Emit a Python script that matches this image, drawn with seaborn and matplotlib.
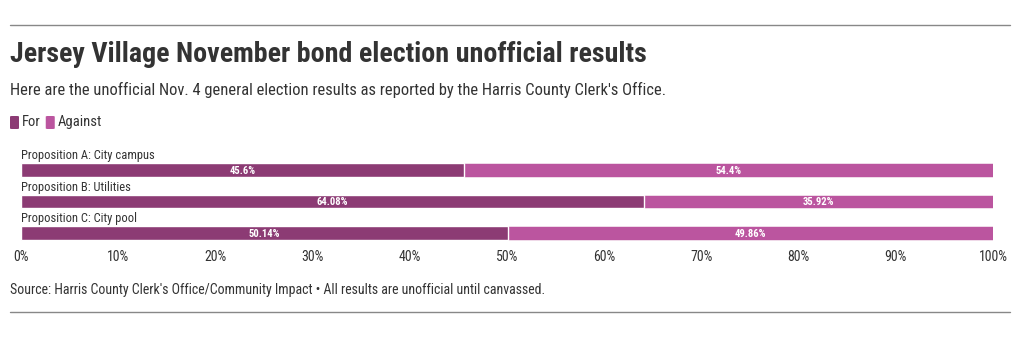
import matplotlib
matplotlib.use("Agg")
import matplotlib.pyplot as plt
from matplotlib import font_manager
from matplotlib.lines import Line2D
from matplotlib.patches import FancyBboxPatch
import seaborn as sns
import pandas as pd

categories = ["Proposition A: City campus", "Proposition B: Utilities", "Proposition C: City pool"]
for_values = [45.6, 64.08, 50.14]
against_values = [54.4, 35.92, 49.86]
for_labels = ["45.6%", "64.08%", "50.14%"]
against_labels = ["54.4%", "35.92%", "49.86%"]
tick_values = [0, 10, 20, 30, 40, 50, 60, 70, 80, 90, 100]
tick_labels = ["0%", "10%", "20%", "30%", "40%", "50%", "60%", "70%", "80%", "90%", "100%"]
series_names = ["For", "Against"]

FOR_C = "#8c3b74"
AGAINST_C = "#bb559f"
TEXT_C = "#333333"

sns.set_theme(style="white")
avail = {f.name for f in font_manager.fontManager.ttflist}
fam = None
for cand in ["Roboto Condensed", "Liberation Sans Narrow", "Roboto", "DejaVu Sans"]:
    if cand in avail:
        fam = cand
        break
plt.rcParams["font.family"] = [fam, "DejaVu Sans"]

W, H = 1020, 337
fig = plt.figure(figsize=(W / 100, H / 100), dpi=100)

def fy(p):
    return 1 - p / H

left, right = 21 / W, 993 / W
ax_top, ax_bot = 146.4, 244.0
ax = fig.add_axes([left, fy(ax_bot), right - left, (ax_bot - ax_top) / H])

df = pd.DataFrame({"cat": categories, "for": for_values, "against": against_values})
df["total"] = df["for"] + df["against"]

sns.barplot(data=df, x="total", y="cat", color=AGAINST_C, width=0.44, ax=ax,
            saturation=1, edgecolor="#f3e3ee", linewidth=0.6)
sns.barplot(data=df, x="for", y="cat", color=FOR_C, width=0.44, ax=ax,
            saturation=1, edgecolor="white", linewidth=1.0)

ax.set_xlim(0, 100)
ax.set_ylim(2.35, -0.75)
ax.set_xlabel("")
ax.set_ylabel("")
ax.set_yticks([])
ax.set_xticks(tick_values)
ax.set_xticklabels(tick_labels, fontsize=10, color=TEXT_C)
ax.tick_params(axis="x", length=0, pad=4)
for s in ax.spines.values():
    s.set_visible(False)

for i, cat in enumerate(categories):
    f = for_values[i]
    a = against_values[i]
    ax.text(0, i - 0.25, cat, ha="left", va="bottom", fontsize=9, color=TEXT_C)
    ax.text(f / 2, i + 0.02, for_labels[i], ha="center", va="center",
            fontsize=7.7, color="white", fontweight="bold")
    ax.text(f + a / 2, i + 0.02, against_labels[i], ha="center", va="center",
            fontsize=7.7, color="white", fontweight="bold")

# Title block
fig.text(10 / W, fy(55), "Jersey Village November bond election unofficial results",
         fontsize=20.2, fontweight="bold", color=TEXT_C, ha="left", va="center")
fig.text(10 / W, fy(90), "Here are the unofficial Nov. 4 general election results as reported by the Harris County Clerk's Office.",
         fontsize=11.9, color=TEXT_C, ha="left", va="center")

# Legend
x0 = 10
for name, col in zip(series_names, [FOR_C, AGAINST_C]):
    fig.patches.append(FancyBboxPatch((x0 / W, fy(129)), 9 / W, 13 / H,
                                      boxstyle="round,pad=0,rounding_size=0.002",
                                      transform=fig.transFigure, facecolor=col,
                                      edgecolor="none"))
    t = fig.text((x0 + 12) / W, fy(122), name, fontsize=10.5, color=TEXT_C,
                 ha="left", va="center")
    fig.canvas.draw()
    bb = t.get_window_extent()
    x0 = bb.x1 + 5

fig.text(10 / W, fy(290), "Source: Harris County Clerk's Office/Community Impact \u2022 All results are unofficial until canvassed.",
         fontsize=10, color=TEXT_C, ha="left", va="center")

fig.add_artist(Line2D([10 / W, 1010 / W], [fy(25), fy(25)], color="#888888", linewidth=1,
                      transform=fig.transFigure))
fig.add_artist(Line2D([10 / W, 1010 / W], [fy(312), fy(312)], color="#888888", linewidth=1,
                      transform=fig.transFigure))

fig.savefig("out.png", dpi=100, facecolor="white")
